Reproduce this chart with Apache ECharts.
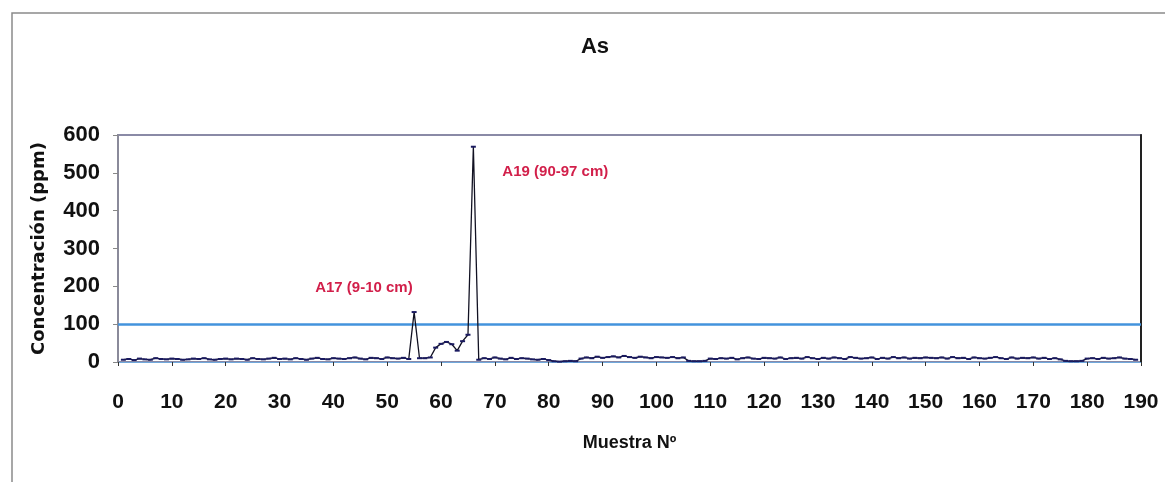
<!DOCTYPE html>
<html>
<head>
<meta charset="utf-8">
<script src="https://cdn.jsdelivr.net/npm/echarts@6/dist/echarts.min.js"></script>
<style>
html,body{margin:0;padding:0;background:#fff;}
#chart{width:1165px;height:482px;}
</style>
</head>
<body>
<div id="chart"></div>
<script>
// Sample numbers 1..189
const sampleNumbers = [];
for (let i = 1; i <= 189; i++) sampleNumbers.push(i);

// As concentration (ppm)
const asValues = [
  6,8,5,9,7,6,10,8,7,9,
  8,6,7,9,8,10,7,6,8,9,
  7,9,8,6,10,8,7,9,11,8,
  9,7,10,8,6,9,11,8,7,10,
  9,8,10,12,9,7,11,10,8,12,
  10,9,11,8,132,10,10,12,38,48,
  53,47,30,55,72,569,6,10,8,12,
  9,7,11,8,10,9,7,6,8,5,
  2,1,2,3,2,9,12,10,14,11,
  13,15,12,16,13,11,14,12,10,13,
  12,11,13,10,12,3,2,2,3,9,
  8,10,9,11,7,10,12,9,8,11,
  10,9,12,8,10,11,9,13,10,8,
  11,9,12,10,8,13,11,9,10,12,
  8,11,9,13,10,12,9,11,10,12,
  11,10,12,9,13,10,11,8,12,10,
  9,11,13,10,8,12,9,11,10,12,
  9,11,8,10,7,3,2,2,3,9,
  10,8,11,9,10,12,9,8,6
];

const thresholdValue = 100;
const xTicks = [0,10,20,30,40,50,60,70,80,90,100,110,120,130,140,150,160,170,180,190];
const yTicks = [0,100,200,300,400,500,600];

const annotationSamples = [55, 66];
const annotationTexts = ['A17 (9-10 cm)', 'A19 (90-97 cm)'];
const annotationOffsets = [[-99, -24], [29, 25]];

const seriesData = sampleNumbers.map((s, i) => [s, asValues[i]]);

const chart = echarts.init(document.getElementById('chart'));
const FONT = '"Liberation Sans", Arial, sans-serif';

chart.setOption({
  backgroundColor: '#ffffff',
  animation: false,
  title: {
    text: 'As',
    left: 590, top: 31,
    textAlign: 'center',
    textStyle: {fontFamily: FONT, fontWeight: 'bold', fontSize: 22, color: '#111'}
  },
  graphic: [{
    type: 'rect', silent: true,
    shape: {x: 12, y: 13, width: 1170, height: 490},
    style: {fill: 'none', stroke: '#8a8a8a', lineWidth: 1.5}
  }],
  grid: {
    left: 118, right: 24, top: 135, bottom: 120,
    show: true, borderColor: '#8a8aa6', borderWidth: 2, backgroundColor: 'transparent'
  },
  xAxis: {
    type: 'value',
    min: 0, max: 190, interval: 10,
    name: 'Muestra Nº',
    nameLocation: 'middle',
    nameGap: 72,
    nameTextStyle: {fontFamily: FONT, fontWeight: 'bold', fontSize: 18, color: '#111'},
    axisLine: {show: true, onZero: true, lineStyle: {color: '#6fa8dc', width: 1.2}},
    axisTick: {show: true, length: 4, lineStyle: {color: '#333'}},
    axisLabel: {
      margin: 30, fontFamily: FONT, fontWeight: 'bold', fontSize: 21, color: '#111',
      formatter: v => xTicks.includes(v) ? String(v) : ''
    },
    splitLine: {show: false}
  },
  yAxis: [{
    type: 'value',
    min: 0, max: 600, interval: 100,
    name: 'Concentración (ppm)',
    nameLocation: 'middle',
    nameGap: 70,
    nameRotate: 90,
    nameTextStyle: {fontFamily: '"DejaVu Sans", sans-serif', fontWeight: 'bold', fontSize: 18, color: '#111'},
    axisLine: {show: true, lineStyle: {color: '#8a8a9a', width: 2}},
    axisTick: {show: true, length: 5, lineStyle: {color: '#888'}},
    axisLabel: {
      margin: 18, fontFamily: FONT, fontWeight: 'bold', fontSize: 22, color: '#111',
      formatter: v => yTicks.includes(v) ? String(v) : ''
    },
    splitLine: {show: false}
  }, {
    type: 'value',
    position: 'right',
    min: 0, max: 600, interval: 100,
    axisLine: {show: true, lineStyle: {color: '#222', width: 2}},
    axisTick: {show: false},
    axisLabel: {show: false},
    splitLine: {show: false}
  }],
  series: [{
    type: 'line',
    data: seriesData,
    showSymbol: true,
    symbol: 'rect',
    symbolSize: [5, 2],
    itemStyle: {color: '#1a1a60'},
    lineStyle: {color: '#111122', width: 1.3},
    z: 3,
    markLine: {
      silent: true,
      symbol: 'none',
      label: {show: false},
      lineStyle: {color: '#4393dd', width: 2.6, type: 'solid'},
      data: [{yAxis: thresholdValue}],
      z: 2
    },
    markPoint: {
      silent: true,
      symbol: 'circle',
      symbolSize: 0,
      data: annotationSamples.map((s, i) => ({
        coord: [s, asValues[sampleNumbers.indexOf(s)]],
        label: {
          show: true,
          formatter: annotationTexts[i],
          position: 'inside',
          align: 'left',
          verticalAlign: 'middle',
          offset: annotationOffsets[i],
          fontFamily: FONT, fontWeight: 'bold', fontSize: 15, color: '#d21f4a'
        }
      }))
    }
  }]
});
</script>
</body>
</html>
